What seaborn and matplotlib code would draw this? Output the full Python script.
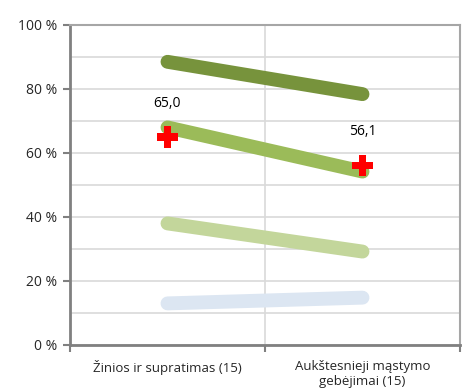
import matplotlib
matplotlib.use("Agg")
import matplotlib.pyplot as plt
import seaborn as sns
import pandas as pd
from matplotlib.ticker import MultipleLocator, FuncFormatter

categories = ["Žinios ir supratimas (15)", "Aukštesnieji mąstymo\ngebėjimai (15)"]
series_names = ["Aukštesnysis", "Pagrindinis", "Patenkinamas", "Nepasiekė"]
series_values = {
    "Aukštesnysis": [88.5, 78.4],
    "Pagrindinis": [68.0, 54.2],
    "Patenkinamas": [38.0, 29.2],
    "Nepasiekė": [13.0, 14.8],
}
series_colors = ["#77933C", "#9BBB59", "#C3D69B", "#DCE6F2"]
mean_values = [65.0, 56.1]
mean_labels = ["65,0", "56,1"]

rows = []
for name in series_names:
    for cat, v in zip(categories, series_values[name]):
        rows.append({"kategorija": cat, "serija": name, "procentai": v})
df = pd.DataFrame(rows)
df_mean = pd.DataFrame({"kategorija": categories, "vidurkis": mean_values})

sns.set_style("white")
plt.rcParams["font.family"] = ["Open Sans", "DejaVu Sans"]

fig = plt.figure(figsize=(4.64, 3.92), dpi=100)
ax = fig.add_axes([70 / 464, 47 / 392, 390 / 464, 320 / 392])

sns.lineplot(data=df, x="kategorija", y="procentai", hue="serija",
             hue_order=series_names, palette=series_colors, linewidth=10,
             solid_capstyle="round", legend=False, ax=ax, sort=False, zorder=3)

sns.scatterplot(data=df_mean, x="kategorija", y="vidurkis", marker="P",
                s=230, color="#FF0000", edgecolor="none", ax=ax, zorder=4,
                legend=False)

for i, (v, lab) in enumerate(zip(mean_values, mean_labels)):
    ax.annotate(lab, (i, v), xytext=(0, 19), textcoords="offset points",
                ha="center", va="bottom", fontsize=10, color="#000000")

ax.set_xlim(-0.5, 1.5)
ax.set_ylim(0, 100)
ax.yaxis.set_major_locator(MultipleLocator(20))
ax.yaxis.set_minor_locator(MultipleLocator(10))
ax.yaxis.set_major_formatter(FuncFormatter(lambda v, p: f"{int(v)} %"))
ax.set_xticks([-0.5, 0.5, 1.5], minor=False)
ax.set_xticks([0, 1], minor=True)
ax.set_xticklabels(["", "", ""])
ax.set_xticklabels(categories, minor=True)

ax.grid(True, which="both", axis="y", color="#D9D9D9", linewidth=1.2, zorder=0)
ax.grid(True, which="major", axis="x", color="#D9D9D9", linewidth=1.2, zorder=0)
ax.set_axisbelow(True)

ax.tick_params(axis="y", which="major", direction="out", length=5, width=1.5,
               color="#808080", labelsize=10, pad=4, left=True)
ax.tick_params(axis="y", which="minor", length=0)
ax.tick_params(axis="x", which="major", direction="out", length=5, width=1.5,
               color="#808080", bottom=True)
ax.tick_params(axis="x", which="minor", length=0, labelsize=9.5, pad=11)

for side in ["left", "bottom"]:
    ax.spines[side].set_color("#808080")
    ax.spines[side].set_linewidth(2)
for side in ["top", "right"]:
    ax.spines[side].set_color("#A6A6A6")
    ax.spines[side].set_linewidth(1.5)

ax.set_xlabel("")
ax.set_ylabel("")

fig.savefig("out.png", dpi=100)
